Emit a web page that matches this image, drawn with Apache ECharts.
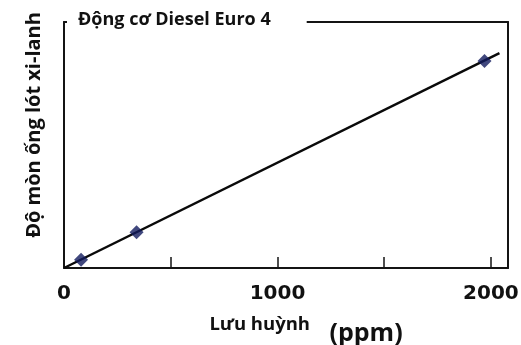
<!DOCTYPE html>
<html><head><meta charset="utf-8">
<script src="https://cdn.jsdelivr.net/npm/echarts@6/dist/echarts.min.js"></script>
<style>html,body{margin:0;padding:0;background:#fff}#c{width:521px;height:345px}</style>
</head><body><div id="c"></div>
<script>
const sulfurPpm = [80, 340, 1970];
const wearValues = [3.4, 14.5, 84.1];
const trendX = [0, 2040];
const trendY = [0, 87.3];
const xTickLabels = ['0', '1000', '2000'];
const titleText = 'Động cơ Diesel Euro 4';
const yName = 'Độ mòn ống lót xi-lanh';

const chart = echarts.init(document.getElementById('c'));
const axisColor = '#141414';
chart.setOption({
  backgroundColor: '#ffffff',
  animation: false,
  title: {
    text: titleText, left: 67, top: 9,
    padding: [2, 36, 2, 11], backgroundColor: '#ffffff',
    textStyle: { fontFamily: 'Open Sans', fontWeight: 'bold', fontSize: 18, color: '#111' }
  },
  grid: { left: 64, right: 13, top: 22, bottom: 77, outerBoundsMode: 'none', containLabel: false },
  xAxis: [{
    type: 'value', min: 0, max: 2080, interval: 500,
    axisLine: { show: true, lineStyle: { color: axisColor, width: 2 } },
    axisTick: { show: true, inside: true, length: 11, lineStyle: { color: axisColor, width: 1.5 } },
    splitLine: { show: false },
    axisLabel: {
      margin: 16, fontFamily: 'DejaVu Sans', fontWeight: 'bold', fontSize: 20, color: '#111',
      showMaxLabel: false,
      formatter: v => xTickLabels.includes(String(v)) ? String(v) : ''
    },
    name: '{a|Lưu huỳnh}{b|   (ppm)}', nameLocation: 'middle', nameGap: 47,
    nameTextStyle: {
      padding: [0, 0, 0, 40],
      rich: {
        a: { fontFamily: 'Open Sans', fontWeight: 'bold', fontSize: 18.5, color: '#111', verticalAlign: 'top' },
        b: { fontFamily: 'Open Sans', fontWeight: 'bold', fontSize: 25, color: '#111', padding: [6, 0, 0, 0] }
      }
    }
  }, {
    type: 'value', position: 'top', min: 0, max: 2080,
    axisLine: { show: true, onZero: false, lineStyle: { color: axisColor, width: 2 } },
    axisTick: { show: false }, axisLabel: { show: false }, splitLine: { show: false }
  }],
  yAxis: [{
    type: 'value', min: 0, max: 100,
    axisLine: { show: true, lineStyle: { color: axisColor, width: 2 } },
    axisTick: { show: false }, axisLabel: { show: false }, splitLine: { show: false },
    name: yName, nameLocation: 'middle', nameGap: 20,
    nameTextStyle: { fontFamily: 'Open Sans', fontWeight: 'bold', fontSize: 20, color: '#111', padding: [0, 0, 0, 40] }
  }, {
    type: 'value', position: 'right', min: 0, max: 100,
    axisLine: { show: true, onZero: false, lineStyle: { color: axisColor, width: 2 } },
    axisTick: { show: false }, axisLabel: { show: false }, splitLine: { show: false }
  }],
  series: [{
    type: 'line', data: trendX.map((x, i) => [x, trendY[i]]),
    showSymbol: false, lineStyle: { color: '#0a0a0a', width: 2.5 }, z: 2
  }, {
    type: 'scatter', data: sulfurPpm.map((x, i) => [x, wearValues[i]]),
    symbol: 'diamond', symbolSize: 14, itemStyle: { color: '#111a5e' }, z: 3
  }]
});
</script></body></html>
